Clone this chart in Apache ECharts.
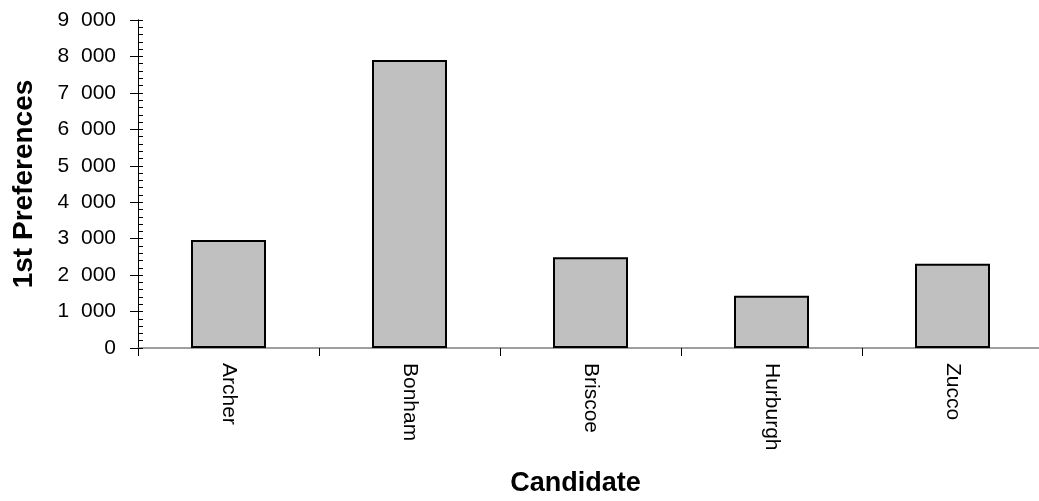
<!DOCTYPE html>
<html>
<head>
<meta charset="utf-8">
<script src="https://cdn.jsdelivr.net/npm/echarts@6/dist/echarts.min.js"></script>
<style>html,body{margin:0;padding:0;background:#fff;}#c{width:1039px;height:501px;}</style>
</head>
<body>
<div id="c"></div>
<script>
const categories = ['Archer', 'Bonham', 'Briscoe', 'Hurburgh', 'Zucco'];
const firstPreferences = [2960, 7900, 2490, 1435, 2315];
const yTickValues = [0, 1000, 2000, 3000, 4000, 5000, 6000, 7000, 8000, 9000];
const yTickLabels = ['0', '1  000', '2  000', '3  000', '4  000', '5  000', '6  000', '7  000', '8  000', '9  000'];
const xTitle = 'Candidate';
const yTitle = '1st Preferences';

const chart = echarts.init(document.getElementById('c'), null, {renderer: 'canvas'});
const font = 'Liberation Sans, Arial, sans-serif';
chart.setOption({
  animation: false,
  backgroundColor: '#ffffff',
  grid: {left: 138, top: 20, width: 905, height: 328, containLabel: false, outerBoundsMode: 'none'},
  xAxis: {
    type: 'category',
    data: categories,
    boundaryGap: true,
    name: xTitle,
    nameLocation: 'middle',
    nameGap: 122,
    nameTextStyle: {fontFamily: font, fontSize: 27, fontWeight: 'bold', color: '#000', padding: [0, 30, 0, 0]},
    axisLine: {lineStyle: {color: '#808080', width: 1.5}},
    axisTick: {show: true, alignWithLabel: false, length: 8, lineStyle: {color: '#000', width: 1}},
    axisLabel: {rotate: -90, margin: 15, fontFamily: font, fontSize: 21, color: '#000'},
    splitLine: {show: false}
  },
  yAxis: [{
    type: 'value',
    min: 0, max: 9000, interval: 1000,
    position: 'left',
    name: yTitle,
    nameLocation: 'middle',
    nameGap: 100,
    nameTextStyle: {fontFamily: font, fontSize: 28, fontWeight: 'bold', color: '#000'},
    axisLine: {show: true, lineStyle: {color: '#000', width: 1}},
    axisTick: {show: true, length: 8, lineStyle: {color: '#000', width: 1}},
    axisLabel: {
      margin: 22, fontFamily: font, fontSize: 21, color: '#000',
      formatter: function (v) { const i = yTickValues.indexOf(v); return i >= 0 ? yTickLabels[i] : ''; }
    },
    splitLine: {show: false}
  }, {
    type: 'value',
    min: 0, max: 9000, interval: 200,
    position: 'left',
    offset: 0,
    axisLine: {show: true, lineStyle: {color: '#000', width: 1}},
    axisTick: {show: true, inside: true, length: 5, lineStyle: {color: '#000', width: 1}},
    axisLabel: {show: false},
    splitLine: {show: false}
  }],
  series: [{
    type: 'bar',
    data: firstPreferences,
    yAxisIndex: 0,
    barWidth: 75,
    itemStyle: {color: '#c0c0c0', borderColor: '#000', borderWidth: 2}
  }]
});
</script>
</body>
</html>
